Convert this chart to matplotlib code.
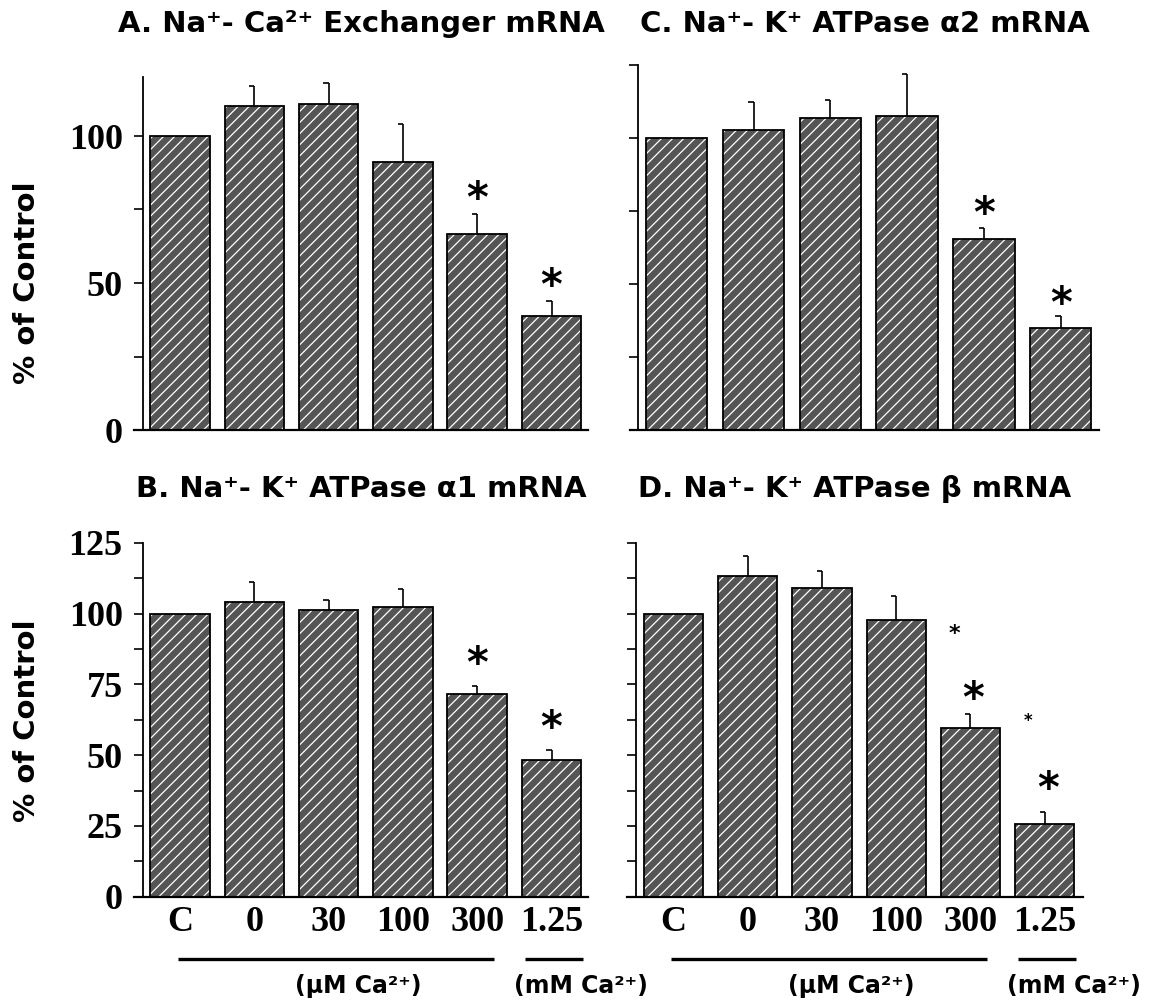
import numpy as np
import matplotlib
matplotlib.use("Agg")
import matplotlib.pyplot as plt

# values (% of control)
categories = ["C", "0", "30", "100", "300", "1.25"]

ncx_mean = [100, 110.2, 110.9, 91.2, 66.7, 38.8]
ncx_err = [0, 6.8, 7.1, 12.8, 6.9, 5.2]
ncx_stars = [(4, 80.2, "big"), (5, 50.5, "big")]

a1_mean = [100, 104.0, 101.2, 102.4, 71.5, 48.2]
a1_err = [0, 7.0, 3.5, 6.4, 2.9, 3.6]
a1_stars = [(4, 83.8, "big"), (5, 61.2, "big")]

a2_mean = [100, 102.7, 107.0, 107.6, 65.6, 35.0]
a2_err = [0, 9.7, 6.1, 14.4, 3.7, 4.0]
a2_stars = [(4, 75.7, "big"), (5, 45.0, "big")]

beta_mean = [100, 113.1, 108.9, 97.6, 59.4, 25.5]
beta_err = [0, 7.1, 6.2, 8.7, 5.1, 4.3]
beta_stars = [(4.04, 71.5, "big"), (5.04, 39.6, "big"),
              (3.78, 94.0, "small"), (4.77, 62.8, "tiny")]

W, H = 1156, 1005
SANS = "DejaVu Sans"
SERIF = "Liberation Serif"
plt.rcParams["hatch.linewidth"] = 0.9

fig = plt.figure(figsize=(W / 100, H / 100), dpi=100)
fig.patch.set_facecolor("white")


def make_axes(center0, step, xlim, zero_px, top_val, px_per_unit):
    left = center0 + xlim[0] * step
    right = center0 + xlim[1] * step
    height = top_val * px_per_unit
    ax = fig.add_axes([left / W, 1 - zero_px / H, (right - left) / W, height / H])
    ax.set_xlim(*xlim)
    ax.set_ylim(0, top_val)
    return ax


def draw_panel(ax, means, errs, stars, major, minor, labeled, show_x):
    x = np.arange(len(means))
    ax.bar(x, means, width=0.8, color="#555555", edgecolor="white",
           hatch="///", linewidth=0, zorder=2)
    ax.bar(x, means, width=0.8, fill=False, edgecolor="black",
           linewidth=1.3, zorder=3)
    for xi, m, e in zip(x, means, errs):
        if e > 0:
            ax.vlines(xi, m, m + e, color="black", lw=1.2, zorder=4)
            ax.hlines(m + e, xi - 0.07, xi, color="black", lw=1.2, zorder=4)

    sizes = {"big": 30, "small": 16, "tiny": 12}
    for sx, sy, kind in stars:
        fs = sizes[kind]
        ax.annotate("*", (sx, sy), xytext=(0, -0.43 * fs), textcoords="offset points",
                    ha="center", va="baseline", fontsize=fs, fontweight="bold",
                    family=SANS, annotation_clip=False)

    for side in ["top", "right"]:
        ax.spines[side].set_visible(False)
    ax.spines["left"].set_position(("data", -0.5))
    ax.spines["left"].set_linewidth(1.3)
    ax.spines["bottom"].set_linewidth(1.6)

    ax.set_yticks(major)
    ax.set_yticks(minor, minor=True)
    ax.tick_params(axis="y", which="both", direction="out", length=6.5, width=1.2, pad=8)
    if labeled:
        ax.set_yticklabels([str(v) for v in major], fontsize=26, fontweight="bold",
                           family=SERIF)
    else:
        ax.set_yticklabels([])

    ax.set_xticks(x)
    ax.tick_params(axis="x", length=0, pad=7)
    if show_x:
        ax.set_xticklabels(categories, fontsize=26, fontweight="bold", family=SERIF)
        yl = -22.1
        ax.plot([-0.03, 4.22], [yl, yl], color="black", lw=2.4, clip_on=False,
                solid_capstyle="butt")
        ax.plot([4.64, 5.42], [yl, yl], color="black", lw=2.4, clip_on=False,
                solid_capstyle="butt")
        ax.text(2.4, -31.5, "(μM Ca²⁺)", ha="center", va="center", fontsize=17,
                fontweight="bold", family=SANS, clip_on=False)
        ax.text(5.4, -31.5, "(mM Ca²⁺)", ha="center", va="center", fontsize=17,
                fontweight="bold", family=SANS, clip_on=False)
    else:
        ax.set_xticklabels([])


ax_a = make_axes(180.0, 74.3, (-0.62, 5.49), 430, 120, 2.94)
ax_b = make_axes(180.0, 74.3, (-0.62, 5.49), 896.7, 125, 2.832)
ax_c = make_axes(676.7, 76.8, (-0.61, 5.5), 430, 125, 2.917)
ax_d = make_axes(673.5, 74.24, (-0.63, 5.51), 896.7, 125, 2.832)

draw_panel(ax_a, ncx_mean, ncx_err, ncx_stars, [0, 50, 100], [25, 75], True, False)
draw_panel(ax_b, a1_mean, a1_err, a1_stars, [0, 25, 50, 75, 100, 125],
           np.arange(12.5, 125, 25), True, True)
draw_panel(ax_c, a2_mean, a2_err, a2_stars, [0, 25, 50, 75, 100, 125], [], False, False)
draw_panel(ax_d, beta_mean, beta_err, beta_stars, [0, 25, 50, 75, 100, 125],
           np.arange(12.5, 125, 25), False, True)

titles = [
    (ax_a, 24, "A. Na⁺- Ca²⁺ Exchanger mRNA"),
    (ax_c, 24, "C. Na⁺- K⁺ ATPase α2 mRNA"),
    (ax_b, 489, "B. Na⁺- K⁺ ATPase α1 mRNA"),
    (ax_d, 489, "D. Na⁺- K⁺ ATPase β mRNA"),
]
for ax, ypx, t in titles:
    pos = ax.get_position()
    fig.text(pos.x0 + pos.width / 2, 1 - ypx / H, t, ha="center", va="center",
             fontsize=21, fontweight="bold", family=SANS)

for ypx in [283, 721]:
    fig.text(27 / W, 1 - ypx / H, "% of Control", rotation=90, ha="center",
             va="center", fontsize=21, fontweight="bold", family=SANS)

fig.savefig("out.png", dpi=100, facecolor="white")
